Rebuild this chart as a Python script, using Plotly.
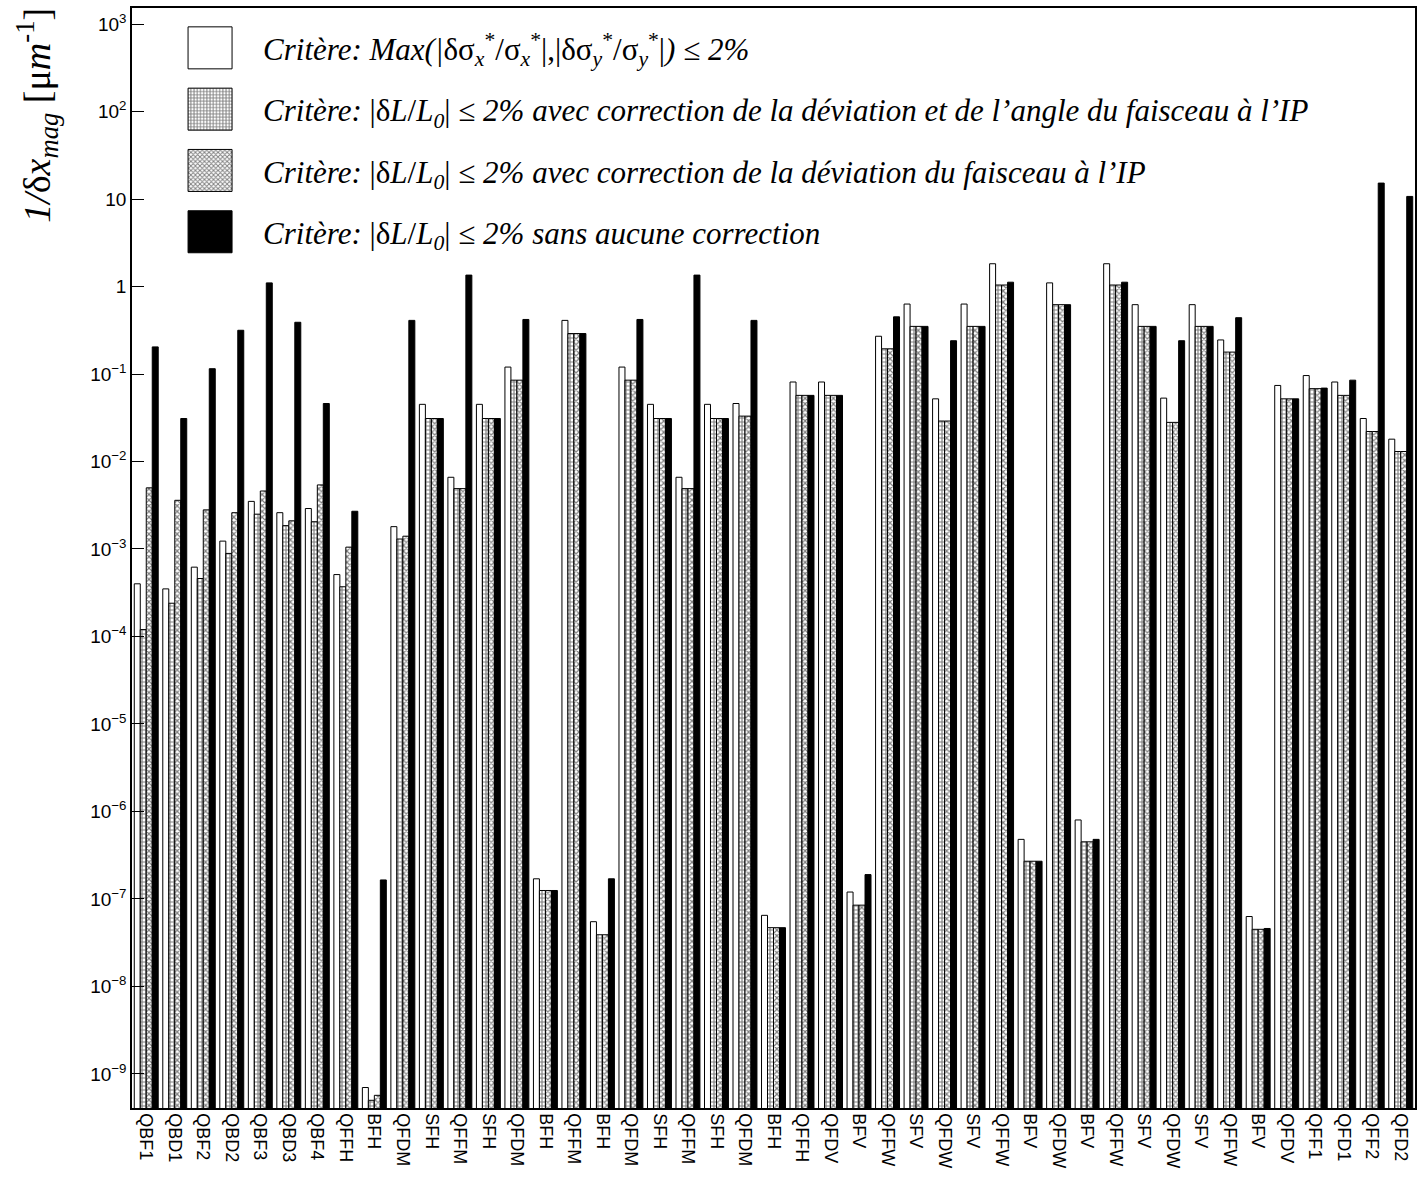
import plotly.graph_objects as go

categories = ["QBF1","QBD1","QBF2","QBD2","QBF3","QBD3","QBF4","QFFH","BFH","QFDM",
              "SFH","QFFM","SFH","QFDM","BFH","QFFM","BFH","QFDM","SFH","QFFM",
              "SFH","QFDM","BFH","QFFH","QFDV","BFV","QFFW","SFV","QFDW","SFV",
              "QFFW","BFV","QFDW","BFV","QFFW","SFV","QFDW","SFV","QFFW","BFV",
              "QFDV","QFF1","QFD1","QFF2","QFD2"]

crit_sigma = [4.0e-4, 3.5e-4, 6.2e-4, 1.23e-3, 3.5e-3, 2.6e-3, 2.9e-3, 5.1e-4, 7e-10, 1.8e-3,
              0.045, 6.6e-3, 0.045, 0.12, 1.7e-7, 0.41, 5.5e-8, 0.12, 0.045, 6.6e-3,
              0.045, 0.046, 6.5e-8, 0.081, 0.081, 1.2e-7, 0.27, 0.63, 0.052, 0.63,
              1.82, 4.8e-7, 1.1, 8e-7, 1.82, 0.62, 0.053, 0.62, 0.245, 6.3e-8,
              0.074, 0.096, 0.081, 0.031, 0.018]

crit_dev_angle = [1.2e-4, 2.4e-4, 4.6e-4, 8.9e-4, 2.5e-3, 1.85e-3, 2.05e-3, 3.7e-4, 5e-10, 1.3e-3,
                  0.031, 4.9e-3, 0.031, 0.085, 1.25e-7, 0.29, 3.9e-8, 0.085, 0.031, 4.9e-3,
                  0.031, 0.033, 4.7e-8, 0.057, 0.057, 8.5e-8, 0.194, 0.35, 0.029, 0.35,
                  1.04, 2.7e-7, 0.62, 4.5e-7, 1.04, 0.35, 0.028, 0.35, 0.178, 4.5e-8,
                  0.052, 0.068, 0.057, 0.022, 0.013]

crit_dev = [5.0e-3, 3.6e-3, 2.8e-3, 2.6e-3, 4.6e-3, 2.1e-3, 5.4e-3, 1.05e-3, 5.7e-10, 1.4e-3,
            0.031, 4.9e-3, 0.031, 0.085, 1.25e-7, 0.29, 3.9e-8, 0.085, 0.031, 4.9e-3,
            0.031, 0.033, 4.7e-8, 0.057, 0.057, 8.5e-8, 0.194, 0.35, 0.029, 0.35,
            1.04, 2.7e-7, 0.62, 4.5e-7, 1.04, 0.35, 0.028, 0.35, 0.178, 4.5e-8,
            0.052, 0.068, 0.057, 0.022, 0.013]

crit_none = [0.204, 0.031, 0.115, 0.316, 1.1, 0.39, 0.046, 2.7e-3, 1.65e-7, 0.41,
             0.031, 1.35, 0.031, 0.42, 1.25e-7, 0.29, 1.7e-7, 0.42, 0.031, 1.35,
             0.031, 0.41, 4.7e-8, 0.057, 0.057, 1.9e-7, 0.45, 0.35, 0.24, 0.35,
             1.12, 2.7e-7, 0.62, 4.8e-7, 1.12, 0.35, 0.24, 0.35, 0.44, 4.6e-8,
             0.052, 0.069, 0.085, 15.2, 10.7]

y_tickvals = [1e3, 1e2, 10, 1, 1e-1, 1e-2, 1e-3, 1e-4, 1e-5, 1e-6, 1e-7, 1e-8, 1e-9]
y_ticktext = ["10<sup>3</sup>", "10<sup>2</sup>", "10", "1", "10<sup>\u22121</sup>",
              "10<sup>\u22122</sup>", "10<sup>\u22123</sup>", "10<sup>\u22124</sup>",
              "10<sup>\u22125</sup>", "10<sup>\u22126</sup>", "10<sup>\u22127</sup>",
              "10<sup>\u22128</sup>", "10<sup>\u22129</sup>"]

names = [
    "<i>Critère: Max(|</i>δσ<sub><i>x</i></sub><sup>*</sup>/σ<sub><i>x</i></sub><sup>*</sup>|,|δσ<sub><i>y</i></sub><sup>*</sup>/σ<sub><i>y</i></sub><sup>*</sup>|<i>) ≤ 2%</i>",
    "<i>Critère: </i>|δ<i>L</i>/<i>L<sub>0</sub></i>|<i> ≤ 2% avec correction de la déviation et de l’angle du faisceau à l’IP</i>",
    "<i>Critère: </i>|δ<i>L</i>/<i>L<sub>0</sub></i>|<i> ≤ 2% avec correction de la déviation du faisceau à l’IP</i>",
    "<i>Critère: </i>|δ<i>L</i>/<i>L<sub>0</sub></i>|<i> ≤ 2% sans aucune correction</i>",
]
y_title = "<i>1/</i>δ<i>x<sub>mag</sub></i> [μ<i>m</i><sup>-1</sup>]"

series = [crit_sigma, crit_dev_angle, crit_dev, crit_none]
styles = [
    dict(color="white", pattern=dict(shape="")),
    dict(color="white", pattern=dict(shape="+", fgcolor="black", bgcolor="white", size=4, solidity=0.5)),
    dict(color="white", pattern=dict(shape="x", fgcolor="black", bgcolor="white", size=4, solidity=0.5)),
    dict(color="black", pattern=dict(shape="")),
]

x = list(range(len(categories)))
fig = go.Figure()
for i, (vals, st) in enumerate(zip(series, styles)):
    fig.add_trace(go.Bar(
        x=x, y=vals, name=names[i], legendgroup=str(i),
        marker=dict(color=st["color"], pattern=st["pattern"],
                    line=dict(color="black", width=1)),
    ))

fig.update_layout(
    width=1421, height=1180,
    paper_bgcolor="white", plot_bgcolor="white",
    margin=dict(l=132, r=4, t=8, b=72),
    barmode="group", bargap=0.16, bargroupgap=0,
    showlegend=True,
    legend=dict(x=0.032, y=0.988, xanchor="left", yanchor="top",
                bgcolor="rgba(255,255,255,0)", borderwidth=0,
                font=dict(family="Liberation Serif", size=31, color="black"),
                tracegroupgap=18, itemwidth=80),
    font=dict(family="Liberation Sans", color="black"),
    annotations=[dict(
        text=y_title, textangle=-90, xref="paper", yref="paper",
        x=-0.074, y=0.902, xanchor="center", yanchor="middle", showarrow=False,
        font=dict(family="Liberation Serif", size=38, color="black"),
    )],
)

fig.update_xaxes(
    range=[-0.5, len(categories) - 0.5],
    tickvals=x, ticktext=categories, tickangle=90,
    tickfont=dict(family="Liberation Sans", size=18, color="black"),
    showgrid=False, zeroline=False,
    showline=True, linecolor="black", linewidth=1.5, mirror=True,
    ticks="",
)

fig.update_yaxes(
    type="log", range=[-9.389, 3.183],
    tickvals=y_tickvals, ticktext=y_ticktext,
    tickfont=dict(family="Liberation Sans", size=19, color="black"),
    ticks="inside", ticklen=12, tickcolor="black", tickwidth=1,
    minor=dict(ticks="inside", ticklen=6, tickcolor="black", tickwidth=1, showgrid=False),
    showgrid=False, zeroline=False,
    showline=True, linecolor="black", linewidth=1.5, mirror=True,
)

post = """
document.body.style.margin = '0';
var gd = document.getElementById('{plot_id}');
gd.querySelectorAll('g.legendpoints path').forEach(function(p) {
    p.setAttribute('d', 'M-30,21H14V-21H-30Z');
});
"""

fig.write_html("out.html", post_script=post, config={"displayModeBar": False})
